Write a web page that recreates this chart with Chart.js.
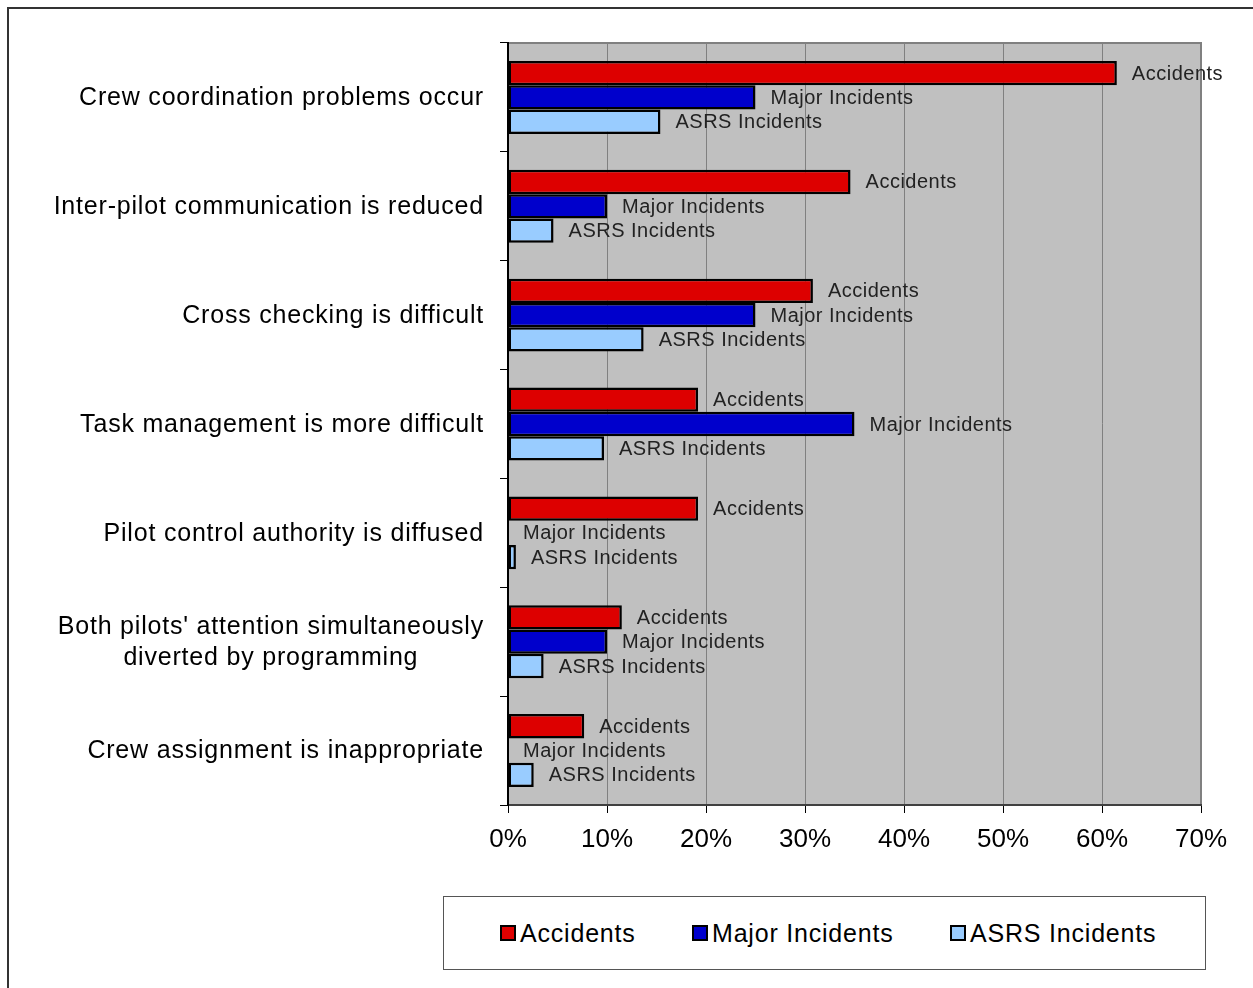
<!DOCTYPE html>
<html>
<head>
<meta charset="utf-8">
<script src="https://cdn.jsdelivr.net/npm/chart.js@4/dist/chart.umd.min.js"></script>
<style>
  body { margin: 0; background: #fff; font-family: "Liberation Sans", Arial, sans-serif; }
  #wrap { position: relative; width: 1253px; height: 988px; overflow: hidden; }
  #frame { position: absolute; left: 7px; top: 7px; width: 1400px; height: 1200px; border: 2px solid #333; }
  #chart { position: absolute; left: 0; top: 0; }
  #legend { position: absolute; left: 443px; top: 896px; width: 761px; height: 72px; border: 1.5px solid #555; background: #fff; }
  .item { position: absolute; top: 22px; font-size: 25px; letter-spacing: 0.8px; color: #000; line-height: 28px; }
  .swatch { display: inline-block; width: 12px; height: 12px; border: 2px solid #000; margin-right: 4px; vertical-align: 1px; }
</style>
</head>
<body>
<div id="wrap">
  <div id="frame"></div>
  <canvas id="chart" width="1253" height="988"></canvas>
  <div id="legend"></div>
</div>
<script>
const categories = [
  ["Crew coordination problems occur"],
  ["Inter-pilot communication is reduced"],
  ["Cross checking is difficult"],
  ["Task management is more difficult"],
  ["Pilot control authority is diffused"],
  ["Both pilots' attention simultaneously", "diverted by programming"],
  ["Crew assignment is inappropriate"]
];
const seriesNames = ["Accidents", "Major Incidents", "ASRS Incidents"];
const seriesColors = ["#dd0000", "#0000cc", "#99ccff"];
const accidents = [61.5, 34.6, 30.8, 19.2, 19.2, 11.5, 7.7];
const majorIncidents = [25, 10, 25, 35, 0, 10, 0];
const asrsIncidents = [15.4, 4.6, 13.7, 9.7, 0.8, 3.6, 2.6];
const xTicks = [0, 10, 20, 30, 40, 50, 60, 70];

const values = [accidents, majorIncidents, asrsIncidents];

// gray plot background
const plotBg = {
  id: "plotBg",
  beforeDraw(chart) {
    const a = chart.chartArea;
    const ctx = chart.ctx;
    ctx.save();
    ctx.fillStyle = "#c0c0c0";
    ctx.fillRect(a.left, a.top, a.right - a.left, a.bottom - a.top);
    ctx.strokeStyle = "#808080";
    ctx.lineWidth = 2;
    ctx.beginPath();
    ctx.moveTo(a.left, a.top);
    ctx.lineTo(a.right, a.top);
    ctx.lineTo(a.right, a.bottom);
    ctx.stroke();
    ctx.restore();
  }
};

// series name written after each bar
const barLabels = {
  id: "barLabels",
  afterDatasetsDraw(chart) {
    const ctx = chart.ctx;
    ctx.save();
    ctx.font = "20px 'Liberation Sans', Arial, sans-serif";
    ctx.letterSpacing = "0.5px";
    ctx.fillStyle = "#222";
    ctx.textAlign = "left";
    ctx.textBaseline = "middle";
    chart.data.datasets.forEach((ds, i) => {
      chart.getDatasetMeta(i).data.forEach((bar) => {
        ctx.fillText(ds.label, bar.x + 15, bar.y + 1);
      });
    });
    ctx.restore();
  }
};

// category labels: block right aligned, lines centred in it
const catLabels = {
  id: "catLabels",
  afterDraw(chart) {
    const ctx = chart.ctx;
    const yScale = chart.scales.y;
    ctx.save();
    ctx.font = "25px 'Liberation Sans', Arial, sans-serif";
    ctx.letterSpacing = "0.8px";
    ctx.fillStyle = "#000";
    ctx.textAlign = "center";
    ctx.textBaseline = "middle";
    const right = 484;
    const lh = 31;
    categories.forEach((lines, i) => {
      const y = yScale.getPixelForValue(i) + 1;
      const w = Math.max(...lines.map((l) => ctx.measureText(l).width));
      const cx = right - w / 2;
      lines.forEach((l, j) => {
        ctx.fillText(l, cx, y + (j - (lines.length - 1) / 2) * lh);
      });
    });
    ctx.restore();
  }
};

new Chart(document.getElementById("chart"), {
  type: "bar",
  data: {
    labels: categories.map((c) => c.join(" ")),
    datasets: seriesNames.map((name, i) => ({
      label: name,
      data: values[i],
      backgroundColor: seriesColors[i],
      borderColor: "#000",
      borderWidth: 2.5,
      borderSkipped: false,
      barPercentage: 1,
      categoryPercentage: 0.67
    }))
  },
  options: {
    indexAxis: "y",
    responsive: false,
    animation: false,
    layout: { padding: { left: 0, right: 52, top: 43, bottom: 123 } },
    plugins: {
      legend: { display: false },
      tooltip: { enabled: false }
    },
    scales: {
      x: {
        min: 0,
        max: 70,
        afterBuildTicks: (scale) => {
          scale.ticks = xTicks.map((v) => ({ value: v }));
        },
        ticks: {
          callback: (v) => v + "%",
          color: "#000",
          font: { family: "'Liberation Sans', Arial, sans-serif", size: 26 },
          padding: 11,
          maxRotation: 0
        },
        grid: { color: "#808080", tickColor: "#000", tickLength: 8, lineWidth: 1 },
        border: { color: "#404040", width: 2 },
        afterFit: (scale) => { scale.height = 60; }
      },
      y: {
        ticks: { display: false },
        grid: { drawOnChartArea: false, color: "#000", tickColor: "#000", tickLength: 8 },
        border: { color: "#000", width: 2 },
        afterFit: (scale) => { scale.width = 508; }
      }
    }
  },
  plugins: [plotBg, barLabels, catLabels]
});

// legend
const legend = document.getElementById("legend");
const legendX = [56, 248, 506];
seriesNames.forEach((name, i) => {
  const d = document.createElement("div");
  d.className = "item";
  d.style.left = legendX[i] + "px";
  d.innerHTML = '<span class="swatch" style="background:' + seriesColors[i] + '"></span>' + name;
  legend.appendChild(d);
});
</script>
</body>
</html>
